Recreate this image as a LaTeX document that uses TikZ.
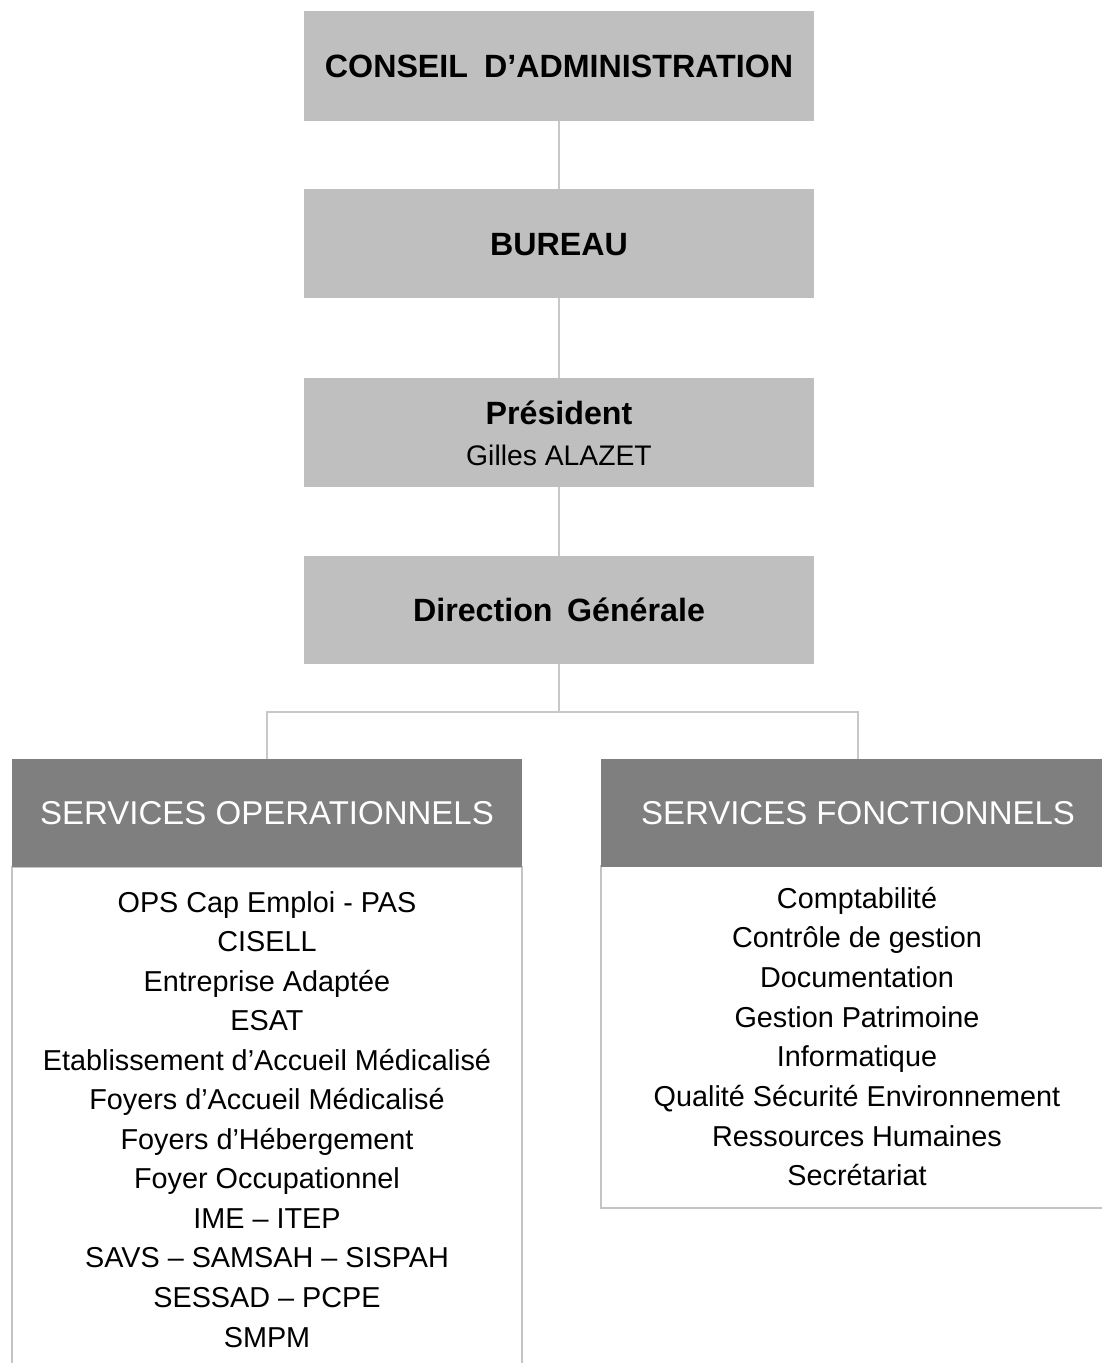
\documentclass[tikz,border=0pt]{standalone}
\usepackage{fontspec}
\setmainfont{Liberation Sans}
\definecolor{boxgray}{HTML}{BFBFBF}
\definecolor{hdrgray}{HTML}{7F7F7F}
\definecolor{linegray}{HTML}{C8C8C8}
\definecolor{bordergray}{HTML}{C4C4C4}
\begin{document}
\begin{tikzpicture}[x=1pt,y=-1pt,
  topbox/.style={fill=boxgray,draw=none,minimum width=510pt,inner sep=0pt,
    text height=23pt,text depth=0pt,font=\fontsize{32.2}{38}\selectfont\bfseries},
  hdr/.style={fill=hdrgray,draw=none,minimum height=108pt,inner sep=0pt,text=white,
    text height=23.6pt,text depth=0pt,font=\fontsize{33}{38}\selectfont},
  bodybox/.style={draw=bordergray,line width=1.5pt,fill=white,inner sep=0pt},
  item/.style={anchor=base,inner sep=0pt,font=\fontsize{28.8}{34}\selectfont},
  conn/.style={draw=linegray,line width=1.5pt}]
\useasboundingbox (0,0) rectangle (1102,1363);
\fill[white] (0,0) rectangle (1102,1363);

% top chain
\node[topbox,minimum height=110pt] (ca) at (559,66) {CONSEIL\hspace{0.5em}D’ADMINISTRATION};
\node[topbox,minimum height=109pt] (bureau) at (559,243.5) {BUREAU};
\node[topbox,minimum height=109pt] (pres) at (559,432.5) {};
\node[anchor=base,inner sep=0pt,font=\fontsize{32.2}{38}\selectfont\bfseries] (prestitle) at (559,424.5) {Président};
\node[anchor=base,inner sep=0pt,font=\fontsize{28.3}{34}\selectfont] (presname) at (559,465) {Gilles ALAZET};
\node[topbox,minimum height=108pt] (dg) at (559,610) {Direction\hspace{0.45em}Générale};

\draw[conn] (ca.south) -- (bureau.north);
\draw[conn] (bureau.south) -- (pres.north);
\draw[conn] (pres.south) -- (dg.north);

% bodies
\node[bodybox,minimum width=510pt,minimum height=513pt] (opsbody) at (267,1123.5) {};
\node[bodybox,minimum width=514pt,minimum height=342pt] (fonbody) at (858,1037) {};

% headers
\node[hdr,minimum width=510pt] (opshdr) at (267,813) {SERVICES OPERATIONNELS};
\node[hdr,minimum width=514pt] (fonhdr) at (858,813) {SERVICES FONCTIONNELS};

\coordinate (br) at (559,712);
\draw[conn] (dg.south) -- (br);
\draw[conn] (opshdr.north) |- (br) -| (fonhdr.north);

% lists
\foreach \t [count=\i] in {OPS Cap Emploi - PAS,CISELL,Entreprise Adaptée,ESAT,Etablissement d’Accueil Médicalisé,Foyers d’Accueil Médicalisé,Foyers d’Hébergement,Foyer Occupationnel,IME – ITEP,SAVS – SAMSAH – SISPAH,SESSAD – PCPE,SMPM}
  \node[item] (ops\i) at (267,{912+39.55*(\i-1)}) {\t};

\foreach \t [count=\i] in {Comptabilité,Contrôle de gestion,Documentation,Gestion Patrimoine,Informatique,Qualité Sécurité Environnement,Ressources Humaines,Secrétariat}
  \node[item] (fon\i) at (857,{908+39.7*(\i-1)}) {\t};
\end{tikzpicture}
\end{document}
